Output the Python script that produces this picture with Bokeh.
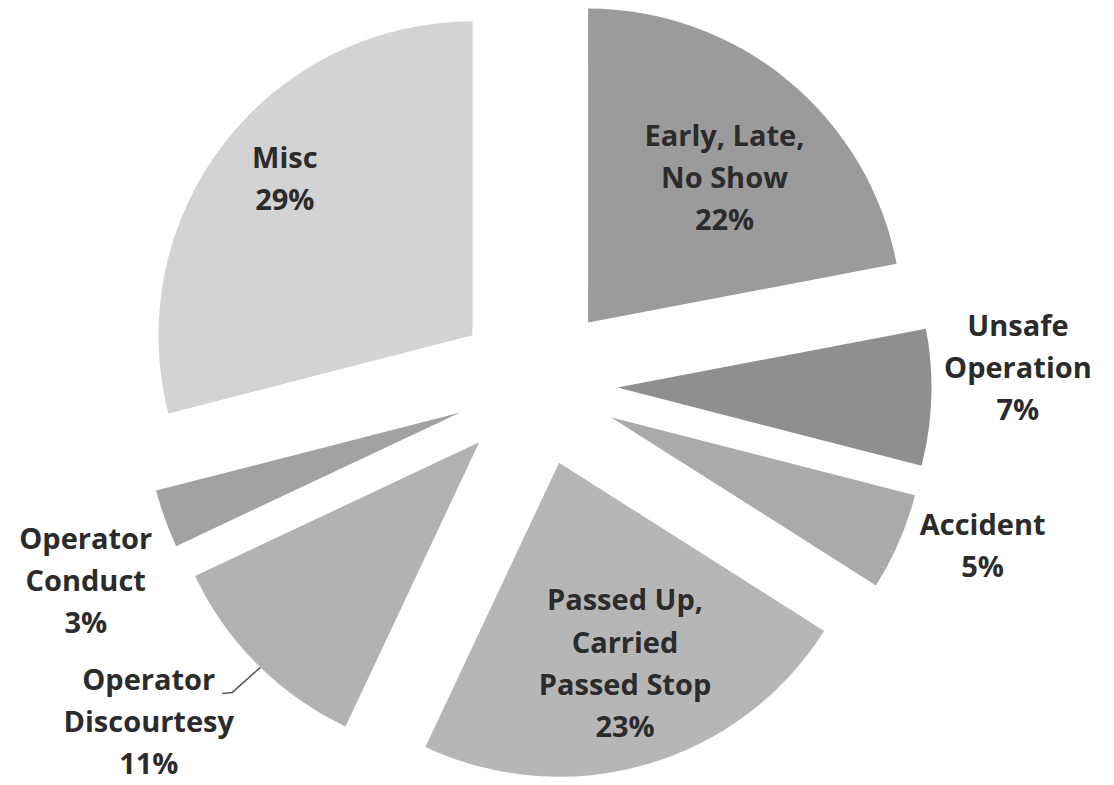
import math
from bokeh.plotting import figure
from bokeh.models import Range1d, ColumnDataSource
from bokeh.core.properties import value
from bokeh.embed import file_html
from bokeh.resources import INLINE

# ---- data ----
categories = ["Early, Late,\nNo Show", "Unsafe\nOperation", "Accident",
              "Passed Up,\nCarried\nPassed Stop", "Operator\nDiscourtesy",
              "Operator\nConduct", "Misc"]
percents = [22, 7, 5, 23, 11, 3, 29]
colors = ["#9b9b9b", "#8f8f8f", "#aaaaaa", "#b6b6b6", "#b2b2b2", "#a2a2a2", "#d3d3d3"]

# ---- layout ----
W, H = 1114, 785
CX, CY = 536, 400.5      # pie centre (data px, y up)
R = 314                  # radius
EXPLODE = 81             # explode distance
# label placement relative to exploded wedge apex: (radius, angle shift deg)
label_r = [200, 401, 393, 210, 432, 410, 245]
label_dang = [3.4, -4.8, -4.5, -2.1, 4.9, -4.2, 2.2]

total = float(sum(percents))
xs, ys, starts, ends, lx, ly, texts = [], [], [], [], [], [], []
cum = 0.0
mids = []
for i, pct in enumerate(percents):
    a1 = cum / total * 360.0          # clockwise from top
    cum += pct
    a2 = cum / total * 360.0
    mid = (a1 + a2) / 2.0
    mids.append(mid)
    ox = CX + EXPLODE * math.sin(math.radians(mid))
    oy = CY + EXPLODE * math.cos(math.radians(mid))
    xs.append(ox)
    ys.append(oy)
    starts.append(math.radians(90 - a2))
    ends.append(math.radians(90 - a1))
    la = math.radians(mid + label_dang[i])
    lx.append(ox + label_r[i] * math.sin(la))
    ly.append(oy + label_r[i] * math.cos(la))
    texts.append(f"{categories[i]}\n{pct}%")

src = ColumnDataSource(dict(x=xs, y=ys, start=starts, end=ends, color=colors))
lsrc = ColumnDataSource(dict(x=lx, y=ly, text=texts))

p = figure(width=W, height=H, output_backend="svg", toolbar_location=None,
           x_range=Range1d(0, W), y_range=Range1d(0, H), min_border=0,
           background_fill_color="white", border_fill_color="white",
           outline_line_color=None)
p.axis.visible = False
p.grid.visible = False

p.wedge(x="x", y="y", radius=R, radius_units="screen", start_angle="start",
        end_angle="end", direction="anticlock", fill_color="color",
        line_color=None, source=src)

# leader line for Operator Discourtesy
k = 4
m = math.radians(mids[k] - 0.8)
ex = xs[k] + R * math.sin(m)
ey = ys[k] + R * math.cos(m)
p.line([ex, ex - 28, ex - 38], [ey, ey - 25, ey - 26], line_color="#555555",
       line_width=1.5)

p.text(x="x", y="y", text="text", source=lsrc, text_align="center",
       text_baseline="middle", text_font=value("Open Sans"),
       text_font_style="bold", text_font_size="29px", text_color="#2b2b2b",
       text_line_height=1.08)

open("out.html", "w").write(file_html(p, INLINE))
